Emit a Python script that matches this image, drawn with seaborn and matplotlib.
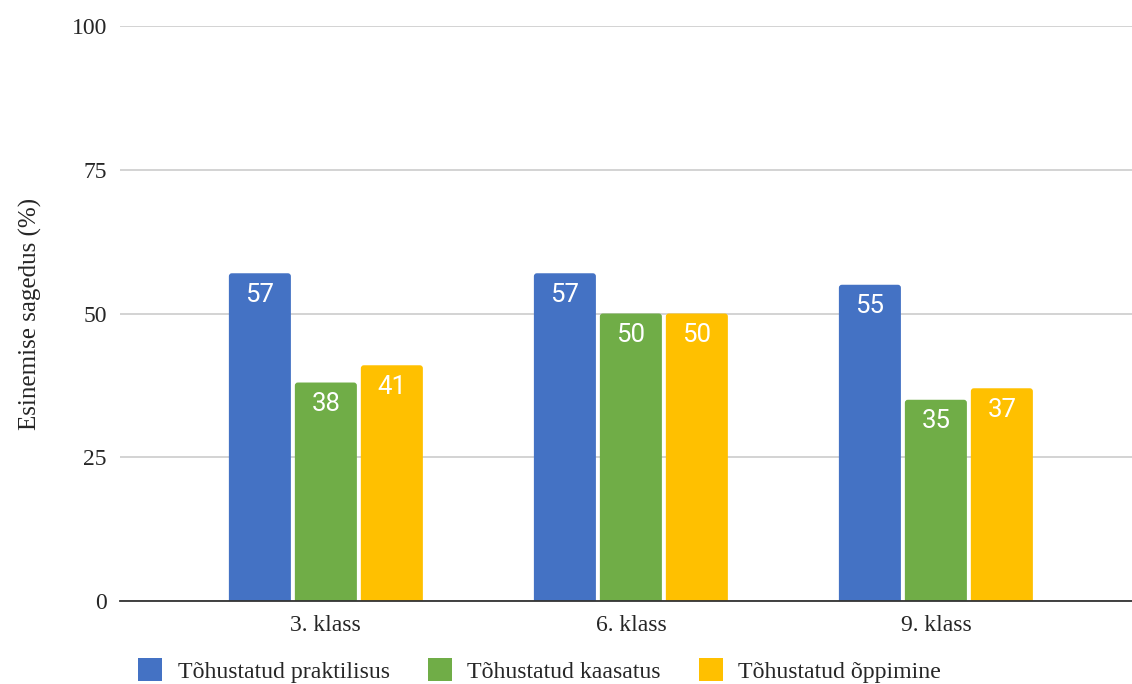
import matplotlib
matplotlib.use("Agg")
import matplotlib.pyplot as plt
from matplotlib.patches import Patch, FancyBboxPatch
import seaborn as sns
import pandas as pd

# Data
classes = ["3. klass", "6. klass", "9. klass"]
series_names = ["Tõhustatud praktilisus", "Tõhustatud kaasatus", "Tõhustatud õppimine"]
praktilisus = [57, 57, 55]
kaasatus = [38, 50, 35]
oppimine = [41, 50, 37]
y_ticks = [0, 25, 50, 75, 100]
y_label = "Esinemise sagedus (%)"
colors = ["#4472C4", "#70AD47", "#FFC000"]

rows = []
for name, vals in zip(series_names, [praktilisus, kaasatus, oppimine]):
    for c, v in zip(classes, vals):
        rows.append({"klass": c, "seeria": name, "vaartus": v})
df = pd.DataFrame(rows)

sns.set_style("white")
plt.rcParams["font.family"] = ["Liberation Serif", "DejaVu Serif"]

fig = plt.figure(figsize=(11.32, 6.84), dpi=100)
ax = fig.add_axes([0.106, 0.1213, 0.894, 0.8407])

sns.barplot(data=df, x="klass", y="vaartus", hue="seeria", hue_order=series_names,
            palette=colors, width=0.649, gap=0.06, saturation=1, legend=False,
            errorbar=None, ax=ax)

ax.set_ylim(0, 100)
ax.set_xlim(-0.675, 2.643)

# pixel -> data unit conversion for rounded bar tops
ax_w_px = 0.894 * 1132
ax_h_px = 0.8407 * 684
x_per_px = (2.643 + 0.675) / ax_w_px
y_per_px = 100 / ax_h_px
radius_px = 3

# swap the plain rectangles for rounded ones and add value labels inside the tops
for cont in ax.containers:
    for bar in cont:
        x, w, h = bar.get_x(), bar.get_width(), bar.get_height()
        fc = bar.get_facecolor()
        bar.set_visible(False)
        rounded = FancyBboxPatch(
            (x, -2), w, h + 2,
            boxstyle=f"round,pad=0,rounding_size={radius_px * x_per_px}",
            mutation_aspect=y_per_px / x_per_px,
            facecolor=fc, edgecolor="none", zorder=2)
        ax.add_patch(rounded)
        ax.annotate(f"{h:.0f}", (x + w / 2, h),
                    xytext=(0, -15.5), textcoords="offset points",
                    ha="center", va="center", color="white", fontsize=18.5,
                    family="Roboto", zorder=3)

ax.set_yticks(y_ticks)
ax.set_yticklabels([str(t) for t in y_ticks], fontsize=17)
ax.tick_params(axis="x", labelsize=17, length=0, pad=10)
ax.tick_params(axis="y", length=0, pad=9.5)
ax.set_xlabel("")
ax.set_ylabel(y_label, fontsize=18, labelpad=21)
ax.yaxis.grid(True, color="#cccccc", linewidth=1.2)
ax.set_axisbelow(True)
for s in ["top", "right", "left"]:
    ax.spines[s].set_visible(False)
ax.spines["bottom"].set_color("#333333")
ax.spines["bottom"].set_linewidth(1.3)
ax.spines["bottom"].set_zorder(5)

handles = [Patch(facecolor=c, edgecolor="none") for c in colors]
fig.legend(handles, series_names, loc="lower left", bbox_to_anchor=(0.103, -0.03),
           ncol=3, frameon=False, fontsize=17.2, handlelength=1.0, handleheight=1.1,
           handletextpad=0.65, columnspacing=1.6)

fig.savefig("out.png", dpi=100)
